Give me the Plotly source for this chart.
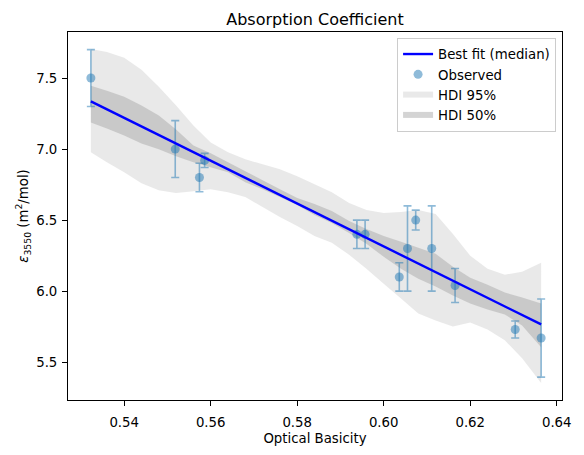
import plotly.graph_objects as go

# Observed data
x_obs = [0.5323, 0.5518, 0.5574, 0.5586, 0.5938, 0.5957, 0.6036, 0.6055, 0.6074, 0.6111, 0.6165, 0.6304, 0.6364]
y_obs = [7.50, 7.00, 6.80, 6.92, 6.40, 6.40, 6.10, 6.30, 6.50, 6.30, 6.04, 5.73, 5.67]
y_err = [0.20, 0.20, 0.10, 0.05, 0.10, 0.10, 0.10, 0.30, 0.07, 0.30, 0.12, 0.06, 0.275]

# Best fit (median) at observed x
y_fit = [7.336, 7.042, 6.958, 6.939, 6.409, 6.380, 6.261, 6.232, 6.203, 6.148, 6.066, 5.857, 5.766]

# HDI bands (smoothed)
x_band = [0.5323, 0.536, 0.540, 0.544, 0.548, 0.552, 0.556, 0.560, 0.564, 0.568, 0.572, 0.576, 0.580,
          0.584, 0.588, 0.592, 0.596, 0.600, 0.604, 0.608, 0.612, 0.616, 0.620, 0.624, 0.628, 0.632, 0.6364]
hdi95_hi = [7.705, 7.684, 7.642, 7.558, 7.439, 7.306, 7.166, 7.047, 6.977, 6.928, 6.893, 6.858, 6.809,
            6.753, 6.697, 6.620, 6.571, 6.550, 6.557, 6.571, 6.543, 6.403, 6.249, 6.158, 6.116, 6.137, 6.200]
hdi95_lo = [6.977, 6.907, 6.837, 6.760, 6.711, 6.690, 6.704, 6.718, 6.697, 6.662, 6.592, 6.522, 6.459,
            6.389, 6.340, 6.256, 6.158, 6.053, 5.948, 5.843, 5.794, 5.752, 5.780, 5.731, 5.654, 5.528, 5.353]
hdi50_hi = [7.446, 7.411, 7.369, 7.306, 7.236, 7.138, 7.026, 6.970, 6.907, 6.844, 6.781, 6.718, 6.655,
            6.613, 6.564, 6.494, 6.438, 6.389, 6.347, 6.305, 6.263, 6.172, 6.095, 6.046, 5.990, 5.955, 5.913]
hdi50_lo = [7.187, 7.145, 7.096, 7.040, 6.998, 6.949, 6.907, 6.872, 6.837, 6.767, 6.718, 6.662, 6.606,
            6.536, 6.480, 6.410, 6.333, 6.242, 6.158, 6.088, 6.033, 5.970, 5.913, 5.871, 5.836, 5.759, 5.605]

x_ticks = [0.54, 0.56, 0.58, 0.60, 0.62, 0.64]
y_ticks = [5.5, 6.0, 6.5, 7.0, 7.5]

FONT = "DejaVu Sans"

fig = go.Figure()

fig.add_trace(go.Scatter(
    x=x_band + x_band[::-1], y=hdi95_hi + hdi95_lo[::-1],
    fill="toself", fillcolor="rgba(211,211,211,0.5)", mode="none",
    name="HDI 95%", legendrank=3, hoverinfo="skip"))
fig.add_trace(go.Scatter(
    x=x_band + x_band[::-1], y=hdi50_hi + hdi50_lo[::-1],
    fill="toself", fillcolor="rgba(169,169,169,0.5)", mode="none",
    name="HDI 50%", legendrank=4, hoverinfo="skip"))
fig.add_trace(go.Scatter(
    x=x_obs, y=y_obs, mode="markers", name="Observed", legendrank=2,
    marker=dict(size=9, color="rgba(31,119,180,0.5)"),
    error_y=dict(type="data", array=y_err, visible=True,
                 color="rgba(31,119,180,0.5)", thickness=1.6, width=4)))
fig.add_trace(go.Scatter(
    x=x_obs, y=y_fit, mode="lines", name="Best fit (median)", legendrank=1,
    line=dict(color="#0000ff", width=2.4)))

axis_common = dict(
    showline=True, linecolor="black", linewidth=1, mirror=True,
    ticks="outside", ticklen=5, tickwidth=1, tickcolor="black",
    showgrid=False, zeroline=False,
    tickfont=dict(family=FONT, size=13.3, color="black"),
)

fig.update_layout(
    width=584, height=455,
    margin=dict(l=68, r=21, t=32, b=53),
    paper_bgcolor="white", plot_bgcolor="white",
    font=dict(family=FONT, size=13.3, color="black"),
    title=dict(text="Absorption Coefficient", x=0.5, xref="paper", xanchor="center",
               y=1, yref="paper", yanchor="bottom", pad=dict(b=7),
               font=dict(family=FONT, size=16, color="black")),
    xaxis=dict(range=[0.52701, 0.64122], tickvals=x_ticks, tickformat=".2f",
               ticklabelstandoff=5,
               title=dict(text="Optical Basicity", standoff=4,
                          font=dict(family=FONT, size=13.3, color="black")),
               **axis_common),
    yaxis=dict(range=[5.234, 7.824], tickvals=y_ticks, tickformat=".1f",
               ticklabelstandoff=2,
               title=dict(text="<i>ε</i><sub>3550</sub> (m<sup>2</sup>/mol)", standoff=4,
                          font=dict(family=FONT, size=13.3, color="black")),
               **axis_common),
    legend=dict(x=0.988, y=0.984, xanchor="right", yanchor="top",
                bgcolor="rgba(255,255,255,0.8)", bordercolor="#cccccc", borderwidth=1,
                font=dict(family=FONT, size=13.3, color="black"),
                tracegroupgap=0, itemwidth=30),
    showlegend=True,
)

fig.write_html("out.html")
